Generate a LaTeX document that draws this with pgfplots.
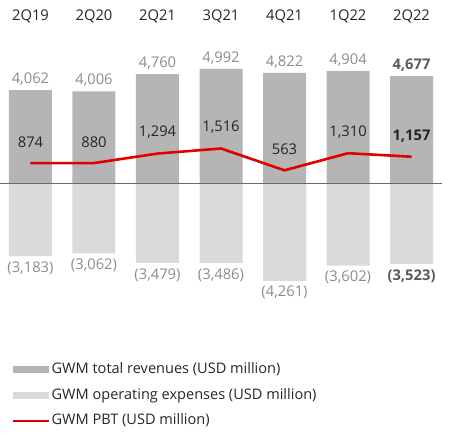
\documentclass[border=0pt]{standalone}
\usepackage{fontspec}
\setmainfont{Open Sans}
\usepackage{pgfplots}
\pgfplotsset{compat=1.18}
\usepackage{pgfplotstable}

\definecolor{revbar}{HTML}{B5B5B5}
\definecolor{expbar}{HTML}{DADADA}
\definecolor{ubsred}{HTML}{E00000}
\definecolor{lblgray}{HTML}{8C8C8C}
\definecolor{boldgray}{HTML}{5A5A5A}
\definecolor{zeroline}{HTML}{6A6A6A}

% x  value  label
\pgfplotstableread{
x y lab
0 4062 4,062
1 4006 4,006
2 4760 4,760
3 4992 4,992
4 4822 4,822
5 4904 4,904
6 4677 \textcolor{boldgray}{\textbf{4,677}}
}\revenues

\pgfplotstableread{
x y lab
0 -3183 (3,183)
1 -3062 (3,062)
2 -3479 (3,479)
3 -3486 (3,486)
4 -4261 (4,261)
5 -3602 (3,602)
6 -3523 \textcolor{boldgray}{\textbf{(3,523)}}
}\expenses

\pgfplotstableread{
x y lab
0 874 874
1 880 880
2 1294 1,294
3 1516 1,516
4 563 563
5 1310 1,310
6 1157 \textbf{1,157}
}\pbt

\begin{document}
\begin{tikzpicture}
\useasboundingbox (0,-133bp) rectangle (450bp,300bp);
\begin{axis}[
    at={(0,0)}, anchor=south west,
    scale only axis,
    width=442bp, height=300bp,
    xmin=-0.48, xmax=6.48,
    ymin=-5100, ymax=8000,
    axis lines=none,
    clip=false,
    font=\fontsize{14.8}{17}\selectfont,
    legend cell align=left,
    legend style={
        at={(rel axis cs:0.027,-0.208)}, anchor=north west,
        draw=none, fill=none,
        font=\fontsize{14.6}{17}\selectfont,
        row sep=11bp,
        inner sep=0pt,
        nodes={inner xsep=1.5bp, inner ysep=0pt, text height=11bp, text depth=3.5bp, text=black!85},
    },
    legend image code/.code={
        \fill[#1] (0bp,-3.5bp) rectangle (36bp,3.5bp);
    },
]
\addplot[ybar, bar width=43bp, bar shift=0pt, draw=none, fill=revbar,
    nodes near coords, point meta=explicit symbolic,
    every node near coord/.append style={anchor=center, yshift=11bp, text=lblgray}]
    table[x=x, y=y, meta=lab] {\revenues};
\addlegendentry{GWM total revenues (USD million)}

\addplot[ybar, bar width=43bp, bar shift=0pt, draw=none, fill=expbar,
    nodes near coords, point meta=explicit symbolic,
    every node near coord/.append style={anchor=center, yshift=-12bp, text=lblgray}]
    table[x=x, y=y, meta=lab] {\expenses};
\addlegendentry{GWM operating expenses (USD million)}

\draw[zeroline, line width=0.8bp] (axis cs:-0.48,0) -- (axis cs:6.48,0);

\addplot[ubsred, line width=2.6bp, mark=none,
    nodes near coords, point meta=explicit symbolic,
    every node near coord/.append style={anchor=center, yshift=21bp, text=black!85},
    legend image code/.code={\draw[ubsred, line width=2bp] (0bp,0bp) -- (36bp,0bp);}]
    table[x=x, y=y, meta=lab] {\pbt};
\addlegendentry{GWM PBT (USD million)}

\node[text=black!85] at (axis cs:0,7300) {2Q19};
\node[text=black!85] at (axis cs:1,7300) {2Q20};
\node[text=black!85] at (axis cs:2,7300) {2Q21};
\node[text=black!85] at (axis cs:3,7300) {3Q21};
\node[text=black!85] at (axis cs:4,7300) {4Q21};
\node[text=black!85] at (axis cs:5,7300) {1Q22};
\node[text=black!85] at (axis cs:6,7300) {2Q22};
\end{axis}
\end{tikzpicture}
\end{document}
